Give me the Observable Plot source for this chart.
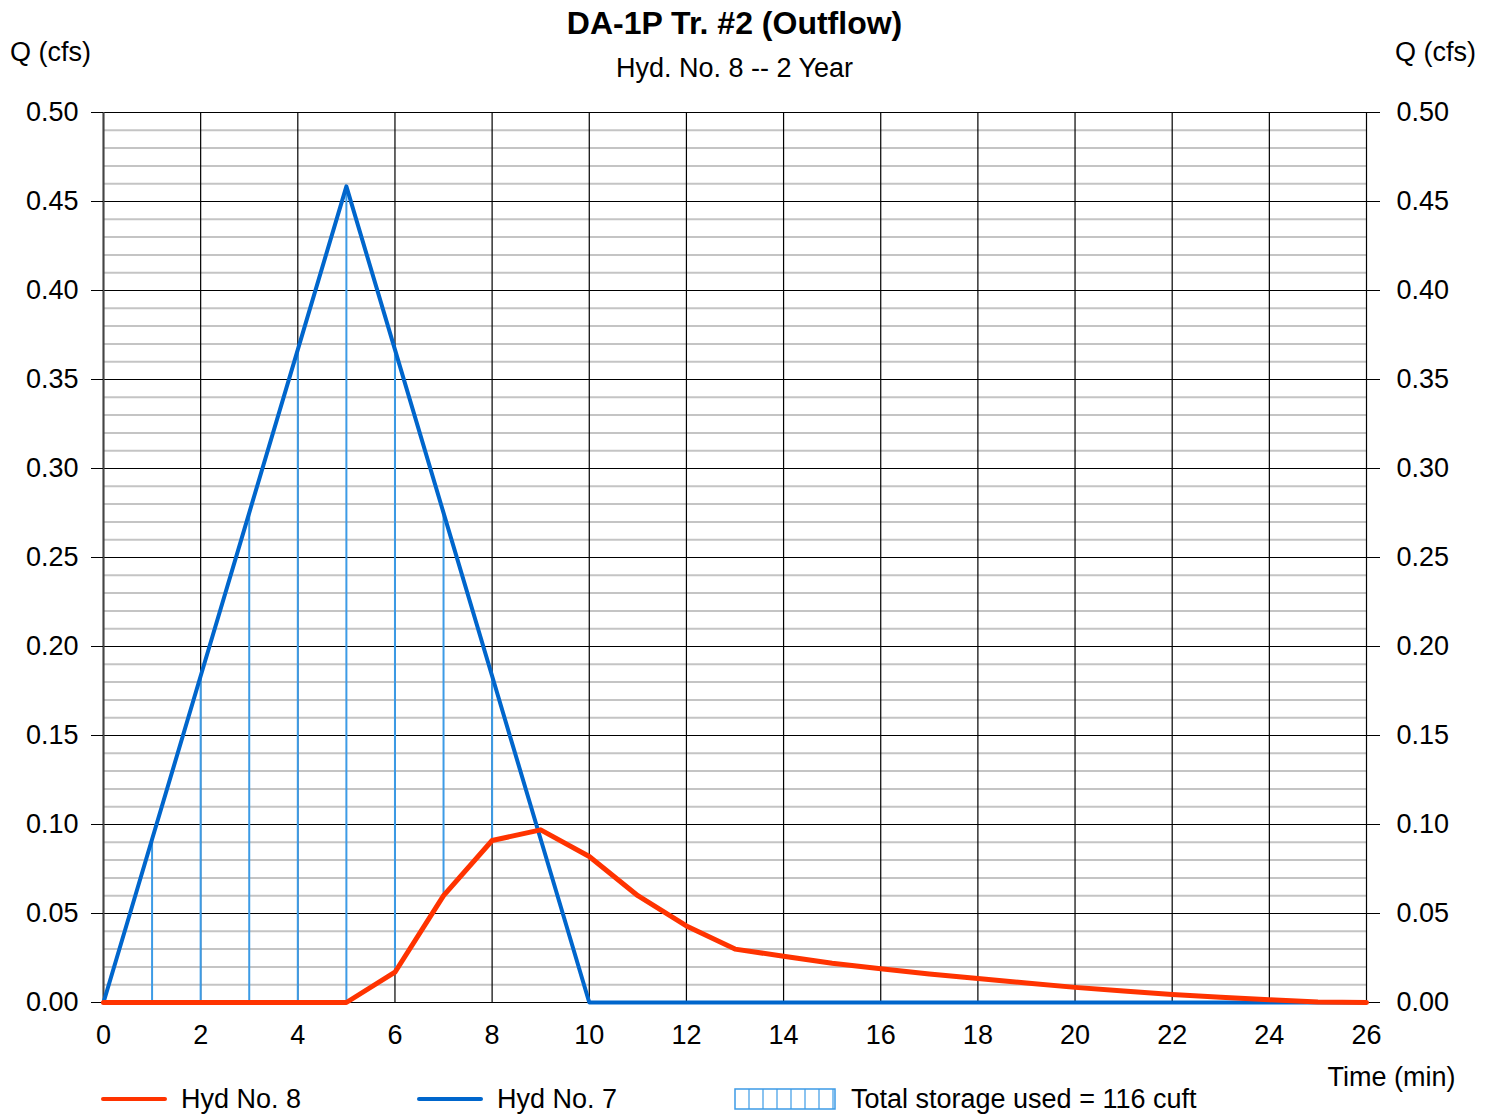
<!DOCTYPE html>
<html>
<head>
<meta charset="utf-8">
<script src="https://cdn.jsdelivr.net/npm/d3@7"></script>
<script src="https://cdn.jsdelivr.net/npm/@observablehq/plot@0.6"></script>
<style>
  html, body { margin: 0; padding: 0; background: #fff; }
  #root { position: relative; width: 1494px; height: 1114px; font-family: "Liberation Sans", Arial, sans-serif; color: #000; overflow: hidden; }
  .abs { position: absolute; white-space: nowrap; line-height: 1; }
  #title { left: 103px; width: 1263px; top: 7px; text-align: center; font-size: 32px; font-weight: bold; }
  #subtitle { left: 103px; width: 1263px; top: 55px; text-align: center; font-size: 27px; }
  #qleft { left: 10px; top: 39px; font-size: 27px; }
  #qright { right: 18px; top: 39px; font-size: 27px; }
  #chart { position: absolute; left: 0; top: 90px; }
  .legtext { font-size: 27px; top: 1086px; }
  .legline { position: absolute; height: 4px; border-radius: 2px; top: 1097px; }
</style>
</head>
<body>
<div id="root">
  <div id="title" class="abs">DA-1P Tr. #2 (Outflow)</div>
  <div id="subtitle" class="abs">Hyd. No. 8 -- 2 Year</div>
  <div id="qleft" class="abs">Q (cfs)</div>
  <div id="qright" class="abs">Q (cfs)</div>
  <div id="chart"></div>
  <div class="legline" style="left:101px;width:66px;background:#ff3300;"></div>
  <div class="abs legtext" style="left:181px;">Hyd No. 8</div>
  <div class="legline" style="left:417px;width:66px;background:#0066cc;"></div>
  <div class="abs legtext" style="left:497px;">Hyd No. 7</div>
  <svg class="abs" style="left:734px;top:1088px;" width="103" height="23" id="hatch"></svg>
  <div class="abs legtext" style="left:851px;">Total storage used = 116 cuft</div>
</div>
<script>
// ---- Data ----
const time = [0,1,2,3,4,5,6,7,8,9,10,11,12,13,14,15,16,17,18,19,20,21,22,23,24,25,26];
// Hyd No. 7 (inflow)
const inflow = [0,0.0917,0.1834,0.2751,0.3668,0.4585,0.3668,0.2751,0.1834,0.0917,0,0,0,0,0,0,0,0,0,0,0,0,0,0,0,0,0];
// Hyd No. 8 (outflow)
const outflow = [0,0,0,0,0,0,0.017,0.060,0.091,0.097,0.082,0.060,0.043,0.030,0.026,0.022,0.019,0.016,0.0135,0.011,0.0085,0.0065,0.0045,0.003,0.0015,0.0003,0];
const yTicks = [0,0.05,0.10,0.15,0.20,0.25,0.30,0.35,0.40,0.45,0.50];
const xTicks = [0,2,4,6,8,10,12,14,16,18,20,22,24,26];

// ---- Build ----
const rows = time.map((t, i) => ({t, inflow: inflow[i], outflow: outflow[i]}));
const storage = rows.filter(d => d.inflow > d.outflow);
const minor = d3.range(1, 50).map(k => k / 100).filter((v, k) => (k + 1) % 5 !== 0);

const plot = Plot.plot({
  width: 1494,
  height: 1012,
  marginTop: 22,
  marginBottom: 100,
  marginLeft: 103,
  marginRight: 128,
  style: {fontFamily: "'Liberation Sans', Arial, sans-serif", fontSize: "27px", color: "#000", background: "transparent"},
  x: {domain: [0, 26]},
  y: {domain: [0, 0.5]},
  marks: [
    Plot.ruleY(minor, {stroke: "#c4c4c4", strokeWidth: 2}),
    Plot.ruleY(yTicks, {stroke: "#000", strokeWidth: 1.2}),
    Plot.ruleX(xTicks, {stroke: "#000", strokeWidth: 1.2}),
    Plot.ruleX([0], {stroke: "#444", strokeWidth: 2}),
    Plot.axisY({anchor: "left", ticks: yTicks, tickFormat: d3.format(".2f"), tickSize: 12, tickPadding: 13, label: null, stroke: "#000"}),
    Plot.axisY({anchor: "right", ticks: yTicks, tickFormat: d3.format(".2f"), tickSize: 13, tickPadding: 17, label: null, stroke: "#000"}),
    Plot.axisX({ticks: xTicks, tickSize: 0, tickPadding: 22, label: null}),
    Plot.ruleX(storage, {x: "t", y1: "outflow", y2: "inflow", stroke: "#3c9be6", strokeWidth: 2}),
    Plot.line(rows, {x: "t", y: "inflow", stroke: "#0066cc", strokeWidth: 4}),
    Plot.line(rows, {x: "t", y: "outflow", stroke: "#ff3300", strokeWidth: 5}),
    Plot.text(["Time (min)"], {frameAnchor: "bottom-right", lineAnchor: "middle", dx: 89, dy: 75, textAnchor: "end", fontSize: 27})
  ]
});
document.getElementById("chart").appendChild(plot);

// legend hatch swatch
const hs = d3.select("#hatch");
hs.append("rect").attr("x", 1).attr("y", 1).attr("width", 100).attr("height", 20)
  .attr("fill", "none").attr("stroke", "#3c9be6").attr("stroke-width", 1.5);
[15, 29, 43, 57, 71, 85, 99].forEach(x => hs.append("line").attr("x1", x).attr("x2", x).attr("y1", 1).attr("y2", 21).attr("stroke", "#3c9be6").attr("stroke-width", 1.2));
</script>
</body>
</html>
